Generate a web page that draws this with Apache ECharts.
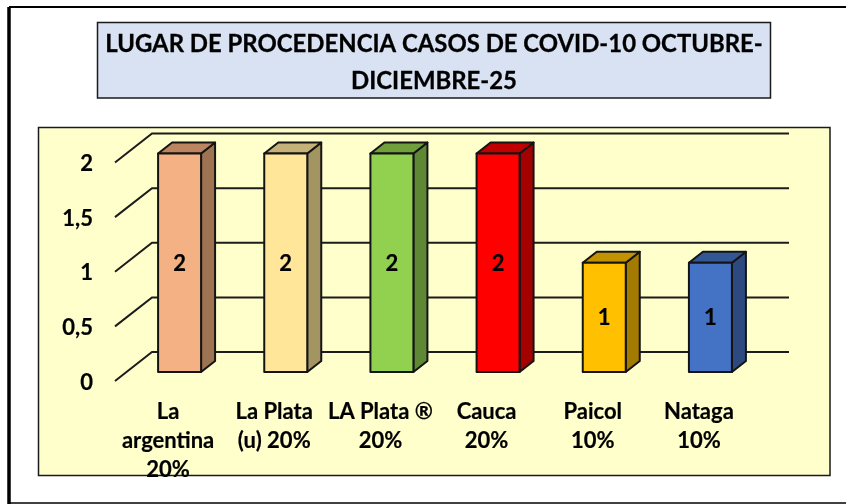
<!DOCTYPE html>
<html>
<head>
<meta charset="utf-8">
<style>html,body{margin:0;padding:0;background:#fff}#c{width:846px;height:504px}</style>
<script src="https://cdn.jsdelivr.net/npm/echarts@6/dist/echarts.min.js"></script>
</head>
<body>
<div id="c"></div>
<script>
const categories = ['La\nargentina\n20%', 'La Plata\n(u) 20%', 'LA Plata ®\n20%', 'Cauca\n20%', 'Paicol\n10%', 'Nataga\n10%'];
const values = [2, 2, 2, 2, 1, 1];
const yTicks = [0, 0.5, 1, 1.5, 2];
const titleText = 'LUGAR DE PROCEDENCIA CASOS DE COVID-10 OCTUBRE-\nDICIEMBRE-25';
const frontColors = ['#F4B183', '#FFE699', '#92D050', '#FF0000', '#FFC000', '#4472C4'];
const topColors = ['#BC8560', '#C4B278', '#70A03C', '#C00000', '#C29200', '#335694'];
const sideColors = ['#9E7352', '#A39562', '#5E8833', '#A30000', '#A37B00', '#2C4A80'];

const FONT = 'Lato, Carlito, "Open Sans", sans-serif';
const INK = '#000';
const WALL_DX = 37, WALL_DY = -29;
const BAR_DX = 11.5, BAR_DY = -9, BAR_W = 43, DEPTH_DX = 14, DEPTH_DY = -11;

function box(x, y, w, h, fill, lw) {
  return { type: 'rect', z: -5, silent: true, shape: { x, y, width: w, height: h },
    style: { fill, stroke: '#1a1a1a', lineWidth: lw } };
}
function rule(x1, y1, x2, y2, lw) {
  return { type: 'line', z: -5, silent: true, shape: { x1, y1, x2, y2 },
    style: { stroke: '#000', lineWidth: lw } };
}

const chart = echarts.init(document.getElementById('c'), null, { renderer: 'canvas' });
chart.setOption({
  animation: false,
  backgroundColor: '#fff',
  title: {
    text: titleText,
    left: 429,
    top: 21.5,
    textAlign: 'center',
    textStyle: { fontFamily: FONT, fontWeight: 'bold', fontSize: 23.9, lineHeight: 36.5, color: '#000', textBorderColor: '#000', textBorderWidth: 0.3 }
  },
  graphic: [
    rule(9, 7, 846, 7, 2),
    rule(9, 7, 9, 504, 3.5),
    rule(9, 503, 846, 503, 1.5),
    box(97.5, 22.5, 673, 75.5, '#D9E2F3', 1.5),
    box(38.5, 127.5, 791.5, 348, '#FFFFCC', 1.5)
  ],
  grid: { left: 115, top: 162.5, width: 637, height: 218.5, containLabel: false },
  xAxis: {
    type: 'category',
    data: categories,
    axisLine: { show: false },
    axisTick: { show: false },
    axisLabel: {
      interval: 0, margin: 16, color: INK, hideOverlap: false,
      fontFamily: FONT, fontWeight: 'bold', fontSize: 22, lineHeight: 29, textBorderColor: '#000', textBorderWidth: 0.2
    }
  },
  yAxis: {
    type: 'value',
    min: 0, max: 2, interval: 0.5,
    axisLine: { show: false },
    axisTick: { show: false },
    splitLine: { show: false },
    axisLabel: {
      margin: 22, color: INK, verticalAlign: 'top', lineHeight: 3,
      fontFamily: FONT, fontWeight: 'bold', fontSize: 22, textBorderColor: '#000', textBorderWidth: 0.2,
      formatter: v => String(v).replace('.', ',')
    }
  },
  series: [
    {
      type: 'custom',
      coordinateSystem: 'cartesian2d',
      silent: true,
      z: 1,
      clip: false,
      data: yTicks.map(v => [0, v]),
      renderItem(params, api) {
        const y = api.coord([0, api.value(1)])[1];
        const cs = params.coordSys;
        return {
          type: 'polyline',
          shape: { points: [[cs.x, y], [cs.x + WALL_DX, y + WALL_DY], [cs.x + cs.width + WALL_DX, y + WALL_DY]] },
          style: { fill: null, stroke: '#1c1c1c', lineWidth: 2 }
        };
      }
    },
    {
      type: 'custom',
      coordinateSystem: 'cartesian2d',
      silent: true,
      z: 3,
      clip: false,
      data: values.map((v, i) => [i, v]),
      renderItem(params, api) {
        const i = api.value(0), v = api.value(1);
        const top = api.coord([i, v]), base = api.coord([i, 0]);
        const l = top[0] - BAR_W / 2 + BAR_DX, r = l + BAR_W;
        const t = top[1] + BAR_DY, b = base[1] + BAR_DY;
        const stroke = { stroke: '#141414', lineWidth: 2, lineJoin: 'round' };
        return {
          type: 'group',
          children: [
            { type: 'polygon', shape: { points: [[r, t], [r + DEPTH_DX, t + DEPTH_DY], [r + DEPTH_DX, b + DEPTH_DY], [r, b]] },
              style: { fill: sideColors[i], ...stroke } },
            { type: 'polygon', shape: { points: [[l, t], [l + DEPTH_DX, t + DEPTH_DY], [r + DEPTH_DX, t + DEPTH_DY], [r, t]] },
              style: { fill: topColors[i], ...stroke } },
            { type: 'rect', shape: { x: l, y: t, width: BAR_W, height: b - t },
              style: { fill: frontColors[i], ...stroke } },
            { type: 'text', style: { text: String(v), x: (l + r) / 2, y: (t + b) / 2 + 1, align: 'center', verticalAlign: 'middle',
                fill: INK, stroke: INK, lineWidth: 0.2, font: 'bold 22px ' + FONT } }
          ]
        };
      }
    }
  ]
});
</script>
</body>
</html>
